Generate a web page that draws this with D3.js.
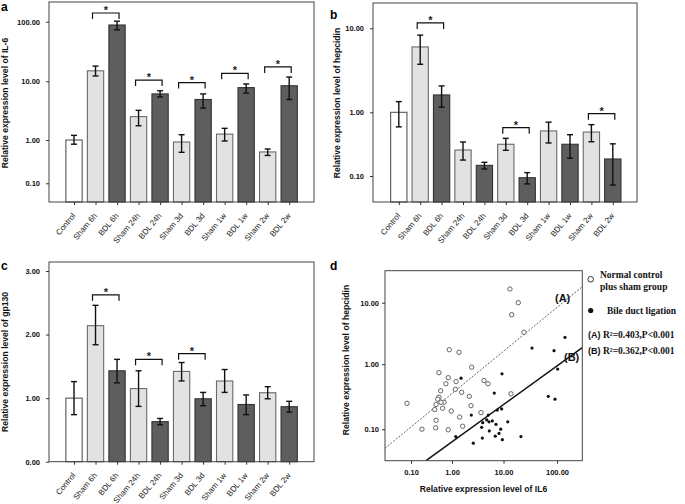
<!DOCTYPE html>
<html><head><meta charset="utf-8">
<script src="https://cdn.jsdelivr.net/npm/d3@7"></script>
<style>body{margin:0;background:#fff}svg{display:block}.star{opacity:0.99}</style></head>
<body><svg id="c" width="685" height="504"></svg>
<script>
// ---------- data ----------
const categories = ["Control","Sham 6h","BDL 6h","Sham 24h","BDL 24h","Sham 3d","BDL 3d","Sham 1w","BDL 1w","Sham 2w","BDL 2w"];
const groups = ["control","sham","bdl","sham","bdl","sham","bdl","sham","bdl","sham","bdl"];

const il6Mean  = [1.00, 15, 88, 2.5, 6.1, 0.90, 4.9, 1.26, 7.8, 0.53, 8.4];
const il6Upper = [1.20, 18, 102, 3.2, 6.9, 1.23, 6.1, 1.58, 9.0, 0.62, 11.8];
const il6Lower = [0.80, 12.3, 73, 1.75, 5.4, 0.52, 3.5, 0.95, 6.3, 0.44, 4.9];
const il6Ticks = [0.1, 1, 10, 100];
const il6Sig = [[1,2,140],[3,4,10.5],[5,6,9.5],[7,8,13.6],[9,10,17.4]];

const hepMean  = [1.00, 6.0, 1.61, 0.256, 0.147, 0.315, 0.094, 0.51, 0.315, 0.49, 0.185];
const hepUpper = [1.34, 8.3, 2.06, 0.342, 0.164, 0.39, 0.113, 0.70, 0.445, 0.64, 0.32];
const hepLower = [0.59, 3.73, 1.15, 0.178, 0.129, 0.253, 0.075, 0.33, 0.19, 0.345, 0.072];
const hepTicks = [0.1, 1, 10];
const hepSig = [[1,2,11.6],[5,6,0.573],[9,10,0.95]];

const gpMean  = [1.00, 2.14, 1.43, 1.15, 0.63, 1.42, 0.99, 1.27, 0.90, 1.085, 0.865];
const gpUpper = [1.26, 2.46, 1.61, 1.43, 0.68, 1.56, 1.09, 1.45, 1.05, 1.18, 0.95];
const gpLower = [0.74, 1.84, 1.24, 0.87, 0.58, 1.27, 0.88, 1.09, 0.74, 0.99, 0.78];
const gpTicks = [0, 1, 2, 3];
const gpSig = [[1,2,2.625],[3,4,1.61],[5,6,1.70]];

const shamX = [13.2,18.9,14.2,24.2,0.86,1.37,0.48,0.81,2.41,1.20,0.71,1.16,0.53,1.54,2.17,0.48,0.45,0.64,0.54,0.41,0.080,2.34,0.59,0.38,0.96,3.66,1.41,0.41,0.40,0.185,0.81,1.61,4.18,5.0,13.8];
const shamY = [16.7,10.0,6.38,3.30,1.72,1.56,0.74,0.62,0.90,0.54,0.50,0.41,0.39,0.37,0.32,0.31,0.29,0.26,0.26,0.24,0.25,0.23,0.21,0.20,0.19,0.18,0.154,0.137,0.105,0.10,0.098,0.111,0.56,0.50,0.35];
const bdlX = [141,34.1,88,103,1.50,9.35,6.63,68.7,91.8,7.58,9.2,4.72,5.07,5.23,6.06,7.15,3.95,3.77,12.0,5.3,8.83,8.18,6.93,9.48,21.2,3.88,2.37,1.18,2.59];
const bdlY = [2.74,1.83,1.66,0.84,0.61,0.71,0.36,0.32,0.29,0.197,0.205,0.139,0.165,0.130,0.134,0.119,0.126,0.107,0.130,0.094,0.10,0.086,0.078,0.069,0.077,0.073,0.165,0.077,0.061];
const lineA = [[0.0232,0.0508],[297,18.2]];
const lineB = [[0.232,0.0328],[297,1.855]];
const scatXTicks = [0.1, 1, 10, 100];
const scatYTicks = [0.1, 1, 10];

// ---------- drawing ----------
const svg = d3.select("#c");
const F = "'Liberation Sans', Arial, sans-serif";
const SERIF = "'Liberation Serif', 'Times New Roman', serif";
const fillC = {control:"#ffffff", sham:"#e2e2e2", bdl:"#5e5e5e"};
const strokeC = {control:"#555", sham:"#6a6a6a", bdl:"#333"};
const fmt = d3.format(".2f");

function styleAxis(ax){
  ax.select(".domain").remove();
  ax.selectAll("line").attr("stroke","#333");
  ax.selectAll("text").attr("font-family",F).attr("font-size","7.5px").attr("font-weight","bold").attr("fill","#111");
}

function barPanel(o){
  const g = svg.append("g");
  const [x0,y0,x1,y1] = o.box;
  const x = d3.scalePoint().domain(categories).range(o.xr);
  const y = o.y;
  const bw = 16.3;
  categories.forEach((c,i)=>{
    const grp = groups[i];
    const yt = y(o.mean[i]);
    g.append("rect").attr("x",x(c)-bw/2).attr("y",yt).attr("width",bw).attr("height",y1-yt)
      .attr("fill",fillC[grp]).attr("stroke",strokeC[grp]).attr("stroke-width",1.1);
    const yu = y(o.upper[i]), yl = y(o.lower[i]);
    const eg = g.append("g").attr("stroke","#111").attr("stroke-width",1.4);
    eg.append("line").attr("x1",x(c)).attr("x2",x(c)).attr("y1",yu).attr("y2",yl);
    eg.append("line").attr("x1",x(c)-3).attr("x2",x(c)+3).attr("y1",yu).attr("y2",yu);
    eg.append("line").attr("x1",x(c)-3).attr("x2",x(c)+3).attr("y1",yl).attr("y2",yl);
  });
  g.append("rect").attr("x",x0).attr("y",y0).attr("width",x1-x0).attr("height",y1-y0)
    .attr("fill","none").attr("stroke","#444").attr("stroke-width",1);
  // significance
  o.sig.forEach(([a,b,v])=>{
    const xa = x(categories[a])-3, xb = x(categories[b])+2, yy = y(v);
    g.append("path").attr("d",`M${xa},${yy+6}V${yy}H${xb}V${yy+6}`).attr("fill","none").attr("stroke","#111").attr("stroke-width",1.2);
    g.append("text").attr("class","star").attr("x",(xa+xb)/2).attr("y",yy+1).attr("text-anchor","middle")
      .attr("font-family",F).attr("font-size","11px").attr("font-weight","bold").attr("fill","#222")
      .text("*");
  });
  // y axis
  const ay = g.append("g").attr("transform",`translate(${x0},0)`)
    .call(d3.axisLeft(y).tickValues(o.ticks).tickFormat(fmt).tickSize(3).tickPadding(6));
  styleAxis(ay);
  // x axis
  const ax = g.append("g").attr("transform",`translate(0,${y1})`)
    .call(d3.axisBottom(x).tickSize(3));
  ax.select(".domain").remove();
  ax.selectAll("line").attr("stroke","#333");
  ax.selectAll("text").attr("x",0).attr("y",0).attr("dy",0)
    .attr("transform","translate(1.5,14) rotate(-50)").attr("text-anchor","end")
    .attr("font-family",F).attr("font-size","8px").attr("fill","#222");
  // title
  g.append("text").attr("transform",`translate(${o.tx},${o.ty}) rotate(-90)`).attr("text-anchor","middle")
    .attr("font-family",F).attr("font-size","8.6px").attr("font-weight","bold").attr("fill","#111").text(o.title);
  // panel letter
  g.append("text").attr("x",o.lx).attr("y",o.ly).attr("font-family",F).attr("font-size","12px")
    .attr("font-weight","bold").attr("fill","#000").text(o.letter);
}

barPanel({
  box:[49,2,314,202], xr:[74,289.2],
  y: d3.scaleLog().domain([0.1,1,10,100]).range([183.3,140,81.3,21.7]),
  mean:il6Mean, upper:il6Upper, lower:il6Lower, ticks:il6Ticks, sig:il6Sig,
  title:"Relative expression level of IL-6", tx:8, ty:103, letter:"a", lx:1, ly:11
});
barPanel({
  box:[373,3,637,202], xr:[398.8,612.8],
  y: d3.scaleLog().domain([0.1,1,10]).range([176,112.3,28.3]),
  mean:hepMean, upper:hepUpper, lower:hepLower, ticks:hepTicks, sig:hepSig,
  title:"Relative expression level of hepcidin", tx:340, ty:103, letter:"b", lx:330, ly:19
});
barPanel({
  box:[49,262,314,461.7], xr:[74,289.2],
  y: d3.scaleLinear().domain([0,3]).range([461.7,271]),
  mean:gpMean, upper:gpUpper, lower:gpLower, ticks:gpTicks, sig:gpSig,
  title:"Relative expression level of gp130", tx:8, ty:362, letter:"c", lx:1, ly:270
});

// ---------- scatter panel d ----------
(function(){
  const g = svg.append("g");
  const [x0,y0,x1,y1] = [385,270.7,582.3,460.7];
  const x = d3.scaleLog().domain([0.1,1,10,100]).range([411,452,503.5,557]);
  const y = d3.scaleLog().domain([0.1,1,10]).range([429.2,364.2,302.7]);
  g.append("clipPath").attr("id","clipd").append("rect").attr("x",x0).attr("y",y0).attr("width",x1-x0).attr("height",y1-y0);
  const line = d3.line().x(d=>x(d[0])).y(d=>y(d[1]));
  g.append("path").attr("d",line(lineA)).attr("clip-path","url(#clipd)").attr("fill","none")
    .attr("stroke","#555").attr("stroke-width",0.9).attr("stroke-dasharray","2,1.5");
  g.append("path").attr("d",line(lineB)).attr("clip-path","url(#clipd)").attr("fill","none")
    .attr("stroke","#111").attr("stroke-width",1.5);
  shamX.forEach((v,i)=>{
    g.append("circle").attr("cx",x(v)).attr("cy",y(shamY[i])).attr("r",2.2)
      .attr("fill","#fff").attr("stroke","#555").attr("stroke-width",0.9);
  });
  bdlX.forEach((v,i)=>{
    g.append("circle").attr("cx",x(v)).attr("cy",y(bdlY[i])).attr("r",1.6).attr("fill","#111");
  });
  g.append("rect").attr("x",x0).attr("y",y0).attr("width",x1-x0).attr("height",y1-y0)
    .attr("fill","none").attr("stroke","#444").attr("stroke-width",1);
  const ay = g.append("g").attr("transform",`translate(${x0},0)`)
    .call(d3.axisLeft(y).tickValues(scatYTicks).tickFormat(fmt).tickSize(3).tickPadding(3));
  styleAxis(ay);
  const ax = g.append("g").attr("transform",`translate(0,${y1})`)
    .call(d3.axisBottom(x).tickValues(scatXTicks).tickFormat(fmt).tickSize(3).tickPadding(6));
  styleAxis(ax);
  g.append("text").attr("x",483.5).attr("y",492).attr("text-anchor","middle").attr("font-family",F)
    .attr("font-size","8.6px").attr("font-weight","bold").attr("fill","#111").text("Relative expression level of IL6");
  g.append("text").attr("transform",`translate(349,360) rotate(-90)`).attr("text-anchor","middle")
    .attr("font-family",F).attr("font-size","8.6px").attr("font-weight","bold").attr("fill","#111")
    .text("Relative expression level of hepcidin");
  g.append("text").attr("x",555).attr("y",302).attr("font-family",F).attr("font-size","11px").attr("font-weight","bold").attr("fill","#111").text("(A)");
  g.append("text").attr("x",564).attr("y",361).attr("font-family",F).attr("font-size","11px").attr("font-weight","bold").attr("fill","#111").text("(B)");
  // legend
  g.append("circle").attr("cx",590.7).attr("cy",279.3).attr("r",2.8).attr("fill","#fff").attr("stroke","#333").attr("stroke-width",1);
  g.append("text").attr("x",600).attr("y",278).attr("font-family",SERIF).attr("font-size","9.5px").attr("font-weight","bold").attr("fill","#111").text("Normal control");
  g.append("text").attr("x",600).attr("y",290).attr("font-family",SERIF).attr("font-size","9.5px").attr("font-weight","bold").attr("fill","#111").text("plus sham group");
  g.append("circle").attr("cx",590.7).attr("cy",310.5).attr("r",2.6).attr("fill","#111");
  g.append("text").attr("x",607).attr("y",313.5).attr("font-family",SERIF).attr("font-size","9.5px").attr("font-weight","bold").attr("fill","#111").text("Bile duct ligation");
  const l1 = g.append("text").attr("x",588).attr("y",338).attr("font-weight","bold").attr("fill","#111").attr("font-size","9.5px");
  l1.append("tspan").attr("font-family",F).attr("font-size","9px").text("(A) ");
  l1.append("tspan").attr("font-family",SERIF).text("R²=0.403,P<0.001");
  const l2 = g.append("text").attr("x",588).attr("y",354).attr("font-weight","bold").attr("fill","#111").attr("font-size","9.5px");
  l2.append("tspan").attr("font-family",F).attr("font-size","9px").text("(B) ");
  l2.append("tspan").attr("font-family",SERIF).text("R²=0.362,P<0.001");
  g.append("text").attr("x",330).attr("y",270).attr("font-family",F).attr("font-size","12px").attr("font-weight","bold").attr("fill","#000").text("d");
})();
</script>
</body></html>
